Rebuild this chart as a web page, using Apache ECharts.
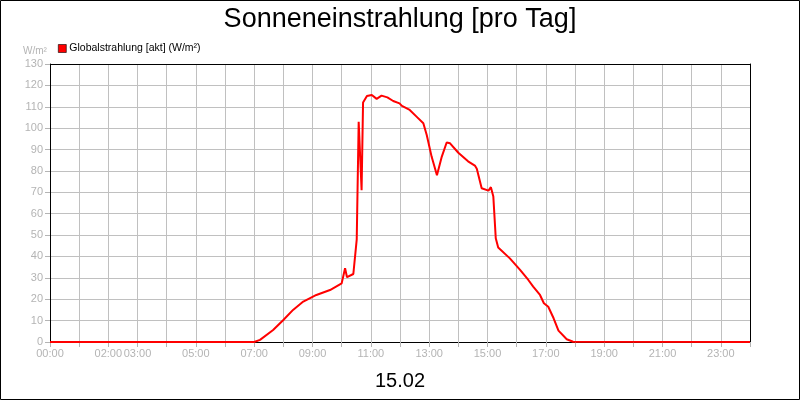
<!DOCTYPE html>
<html>
<head>
<meta charset="utf-8">
<script src="https://cdn.jsdelivr.net/npm/echarts@6/dist/echarts.min.js"></script>
<style>
  html, body { margin: 0; padding: 0; background: #fff; }
  #chart { width: 800px; height: 400px; }
</style>
</head>
<body>
<div id="chart"></div>
<script>
// readings of the day, time as HH:MM and W/m²
const times = ['00:00', '07:00', '07:12', '07:39', '08:00', '08:20', '08:41', '09:08', '09:36',
  '10:00', '10:07', '10:11', '10:24', '10:31', '10:35', '10:41', '10:44', '10:52', '11:02',
  '11:12', '11:22', '11:34', '11:46', '11:59', '12:04', '12:20', '12:34', '12:48', '12:55',
  '13:05', '13:16', '13:26', '13:36', '13:43', '14:00', '14:20', '14:34', '14:38', '14:48',
  '15:02', '15:07', '15:12', '15:17', '15:22', '15:46', '16:07', '16:24', '16:34', '16:48',
  '16:56', '17:05', '17:16', '17:26', '17:43', '17:56', '18:00', '24:00'];
const values = [0, 0, 1, 5.6, 10.3, 15, 18.9, 22, 24.3,
  27.4, 34.5, 30.3, 31.8, 48, 103, 71, 112, 115, 115.5,
  113.7, 115.2, 114.4, 112.7, 111.6, 110.4, 108.5, 105.4, 102.3, 96.8,
  86.7, 78, 86.7, 93.3, 92.9, 88.5, 84.5, 82.5, 81, 71.9,
  70.8, 72.4, 68, 48.5, 44.2, 39.1, 33.7, 29, 25.9, 22,
  18.1, 16.5, 11.1, 5.3, 1.3, 0.1, 0, 0];
const shownHours = [0, 2, 3, 5, 7, 9, 11, 13, 15, 17, 19, 21, 23];

const toHours = t => {
  const p = t.split(':');
  return +p[0] + (+p[1]) / 60;
};
const points = times.map((t, i) => [toHours(t), values[i]]);

const chart = echarts.init(document.getElementById('chart'));
const grey = '#b4b4b4';
const font = 'Liberation Sans, Arial, sans-serif';

// plain black frame lines for the top and right side of the plot
const frameX = { type: 'value', position: 'top', min: 0, max: 24, z: 4,
  axisLine: { onZero: false, lineStyle: { color: '#000' } },
  axisTick: { show: false }, axisLabel: { show: false }, splitLine: { show: false } };
const frameY = { type: 'value', position: 'right', min: 0, max: 130, z: 4,
  axisLine: { show: true, onZero: false, lineStyle: { color: '#000' } },
  axisTick: { show: false }, axisLabel: { show: false }, splitLine: { show: false } };

chart.setOption({
  animation: false,
  backgroundColor: '#fff',
  title: [{
    text: 'Sonneneinstrahlung [pro Tag]',
    left: 'center',
    top: 1,
    textStyle: { fontFamily: font, fontSize: 27, fontWeight: 'normal', color: '#000' }
  }, {
    text: '15.02',
    left: 'center',
    top: 366,
    textStyle: { fontFamily: font, fontSize: 20, fontWeight: 'normal', color: '#000' }
  }],
  legend: {
    left: 53,
    top: 38,
    itemWidth: 8,
    itemHeight: 8,
    itemGap: 4,
    icon: 'rect',
    textStyle: { fontFamily: font, fontSize: 10.5, color: '#000', padding: [0, 0, 0, -2] },
    data: [{ name: 'Globalstrahlung [akt] (W/m²)', itemStyle: { color: '#ff0000', borderColor: '#000', borderWidth: 0.6 } }]
  },
  graphic: [{
    type: 'rect',
    shape: { x: 0.5, y: 0.5, width: 799, height: 399 },
    style: { fill: 'none', stroke: '#000', lineWidth: 1 },
    silent: true
  }, {
    type: 'text',
    left: 23,
    top: 46,
    style: { text: 'W/m²', fill: grey, font: '10px ' + font }
  }],
  grid: { left: 50, right: 50, top: 64, bottom: 58 },
  xAxis: [{
    type: 'value',
    min: 0,
    max: 24,
    interval: 1,
    z: 4,
    axisLine: { onZero: false, lineStyle: { color: '#000' } },
    axisTick: { length: 5, lineStyle: { color: grey } },
    splitLine: { lineStyle: { color: '#c0c0c0' } },
    axisLabel: {
      color: grey,
      fontFamily: font,
      fontSize: 11,
      margin: 6,
      formatter: v => shownHours.indexOf(v) >= 0 ? String(v).padStart(2, '0') + ':00' : ''
    }
  }, frameX],
  yAxis: [{
    type: 'value',
    min: 0,
    max: 130,
    interval: 10,
    z: 4,
    axisLine: { show: true, onZero: false, lineStyle: { color: '#000' } },
    axisTick: { show: true, length: 5, lineStyle: { color: grey } },
    splitLine: { lineStyle: { color: '#c0c0c0' } },
    axisLabel: { color: grey, fontFamily: font, fontSize: 11, margin: 7 }
  }, frameY],
  series: [{
    name: 'Globalstrahlung [akt] (W/m²)',
    type: 'line',
    z: 6,
    data: points,
    showSymbol: false,
    color: '#ff0000',
    lineStyle: { color: '#ff0000', width: 2 }
  }]
});
</script>
</body>
</html>
